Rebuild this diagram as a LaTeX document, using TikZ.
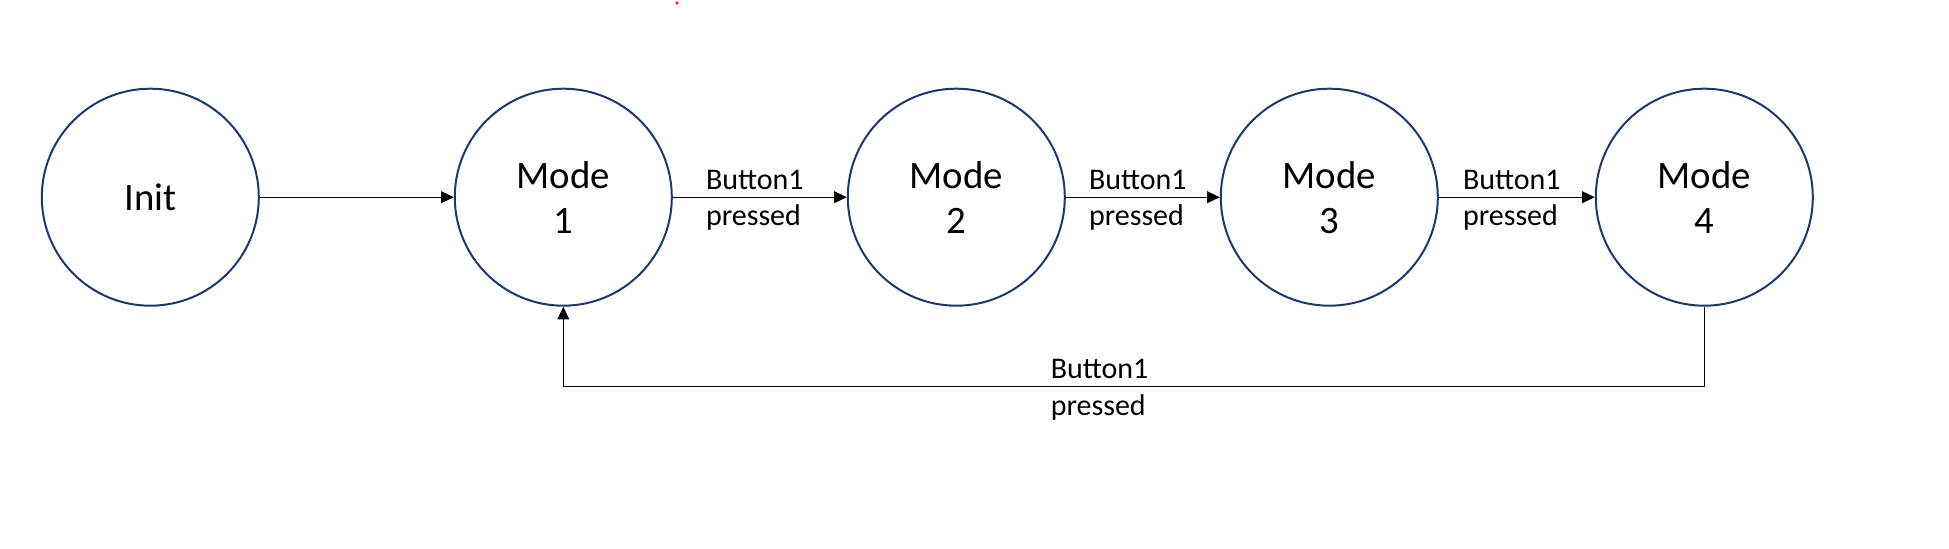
\documentclass[tikz,border=0pt]{standalone}
\usepackage{fontspec}
\setmainfont{Carlito}
\usepackage{xcolor,tikz}
\usetikzlibrary{arrows.meta,positioning}
\definecolor{ring}{HTML}{1F3864}

\begin{document}
\begin{tikzpicture}[
    x=0.5pt,
    y=-0.5pt,
    state/.style={
        draw=ring,
        circle,
        line width=1pt,
        minimum size=108.5pt,
        inner sep=0pt,
        align=center,
        font=\fontsize{19.4}{22.5}\selectfont
    },
    lbl/.style={
        align=left,
        yshift=-1.5pt,
        font=\fontsize{15}{18.4}\selectfont
    },
    arr/.style={
        -{Triangle[length=6.3pt,width=5.8pt]},
        line width=0.65pt,
        draw=black
    }
]

\useasboundingbox (0,0) rectangle (1949,549);

\fill[red] (677,3) circle (0.8pt);

\node[state] (init) at (150.3,197.2) {Init};

\node[state,right=97pt of init] (m1)
{Mode\\1};

\node[state,right=87pt of m1] (m2)
{Mode\\2};

\node[state,right=77pt of m2] (m3)
{Mode\\3};

\node[state,right=78pt of m3] (m4)
{Mode\\4};

\draw[arr] (init)--(m1);
\draw[arr] (m1)--node[lbl,xshift=-2.5pt]{Button1\\pressed}(m2);
\draw[arr] (m2)--node[lbl,xshift=-2.5pt]{Button1\\pressed}(m3);
\draw[arr] (m3)--node[lbl,xshift=-2.5pt]{Button1\\pressed}(m4);

\draw[arr] (m4.south)--++(0,80)-|node[lbl,pos=0.265]{Button1\\pressed}(m1.south);

\end{tikzpicture}
\end{document}
